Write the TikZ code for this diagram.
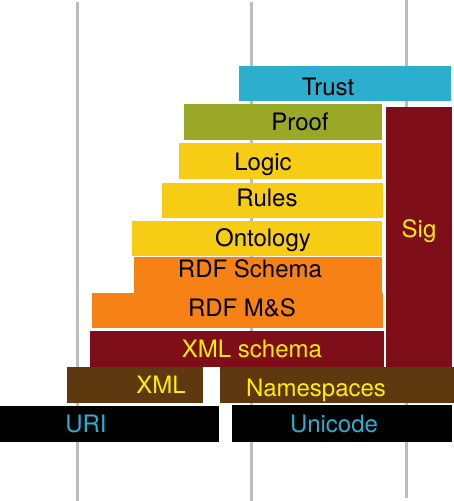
\documentclass[tikz,border=0pt]{standalone}
\usepackage{fontspec}
\setmainfont{TeX Gyre Heros}
\usepackage{xcolor}
\usepackage{tikz}
\usetikzlibrary{backgrounds,positioning}
\pgfdeclarelayer{edgelayer}
\pgfdeclarelayer{nodelayer}
\pgfsetlayers{background,edgelayer,nodelayer,main}
\definecolor{trustblue}{RGB}{44,174,206}
\definecolor{proofgreen}{RGB}{153,168,38}
\definecolor{logicyellow}{RGB}{247,204,20}
\definecolor{rdforange}{RGB}{246,130,22}
\definecolor{sigred}{RGB}{126,14,23}
\definecolor{xmlbrown}{RGB}{94,56,14}
\definecolor{textyellow}{RGB}{255,238,0}
\definecolor{rulegray}{RGB}{188,188,188}
\tikzstyle{none}=[inner sep=0mm]
\tikzstyle{rule}=[line width=3pt,draw=rulegray]
\tikzstyle{box}=[shape=rectangle,inner sep=0pt,outer sep=0pt]
\tikzstyle{lbl}=[inner sep=0pt,anchor=base,font=\fontsize{24}{24}\selectfont]
\tikzstyle{dark lbl}=[lbl,text=black]
\tikzstyle{yellow lbl}=[lbl,text=textyellow]
\tikzstyle{blue lbl}=[lbl,text=trustblue]

\begin{document}
\begin{tikzpicture}[x=1pt,y=-1pt]
	\useasboundingbox (0,0) rectangle (454,501);
	\begin{pgfonlayer}{nodelayer}
		% layer boxes
		\node [style=box,fill=trustblue,minimum width=212pt,minimum height=35pt] (0) at (345,83.5) {};
		\node [style=box,fill=proofgreen,minimum width=198pt,minimum height=36pt] (1) at (283,122) {};
		\node [style=box,fill=sigred,minimum width=66pt,minimum height=260pt] (2) at (419,237) {};
		\node [style=box,fill=logicyellow,minimum width=203pt,minimum height=36pt] (3) at (280.5,161) {};
		\node [style=box,fill=logicyellow,minimum width=221pt,minimum height=35pt] (4) at (272.5,200.5) {};
		\node [style=box,fill=logicyellow,minimum width=250pt,minimum height=35pt] (5) at (257,238.5) {};
		\node [style=box,fill=rdforange,minimum width=248pt,minimum height=37pt] (6) at (258,275) {};
		\node [style=box,fill=rdforange,minimum width=291pt,minimum height=35pt] (7) at (237.5,310.5) {};
		\node [style=box,fill=sigred,minimum width=294pt,minimum height=36pt] (8) at (237,349) {};
		\node [style=box,fill=xmlbrown,minimum width=136pt,minimum height=36pt] (9) at (135,385) {};
		\node [style=box,fill=xmlbrown,minimum width=234pt,minimum height=36pt] (10) at (337,385) {};
		\node [style=box,fill=black,minimum width=219pt,minimum height=36pt] (11) at (109.5,424) {};
		\node [style=box,fill=black,minimum width=220pt,minimum height=37pt] (12) at (342,423.5) {};
		% labels
		\node [style=dark lbl] (13) at (328,95) {Trust};
		\node [style=dark lbl] (14) at (300,130) {Proof};
		\node [style=yellow lbl] (15) at (419,237) {Sig};
		\node [style=dark lbl] (16) at (263,170) {Logic};
		\node [style=dark lbl] (17) at (267,206) {Rules};
		\node [style=dark lbl] (18) at (263,246) {Ontology};
		\node [style=dark lbl] (19) at (250,277) {RDF Schema};
		\node [style=dark lbl] (20) at (242,316) {RDF M\&S};
		\node [style=yellow lbl] (21) at (252,357) {XML schema};
		\node [style=yellow lbl] (22) at (161,393) {XML};
		\node [style=yellow lbl] (23) at (316,396) {Namespaces};
		\node [style=blue lbl] (24) at (86,432) {URI};
		\node [style=blue lbl] (25) at (334,432) {Unicode};
		% ends of the rules
		\node [style=none] (26) at (77,2) {};
		\node [style=none] (27) at (77,501) {};
		\node [style=none] (28) at (251,2) {};
		\node [style=none] (29) at (251,501) {};
		\node [style=none] (30) at (406,0) {};
		\node [style=none] (31) at (406,498) {};
	\end{pgfonlayer}
	\begin{pgfonlayer}{edgelayer}
		\draw [style=rule] (26.center) to (27.center);
		\draw [style=rule] (28.center) to (29.center);
		\draw [style=rule] (30.center) to (31.center);
	\end{pgfonlayer}
\end{tikzpicture}
\end{document}
